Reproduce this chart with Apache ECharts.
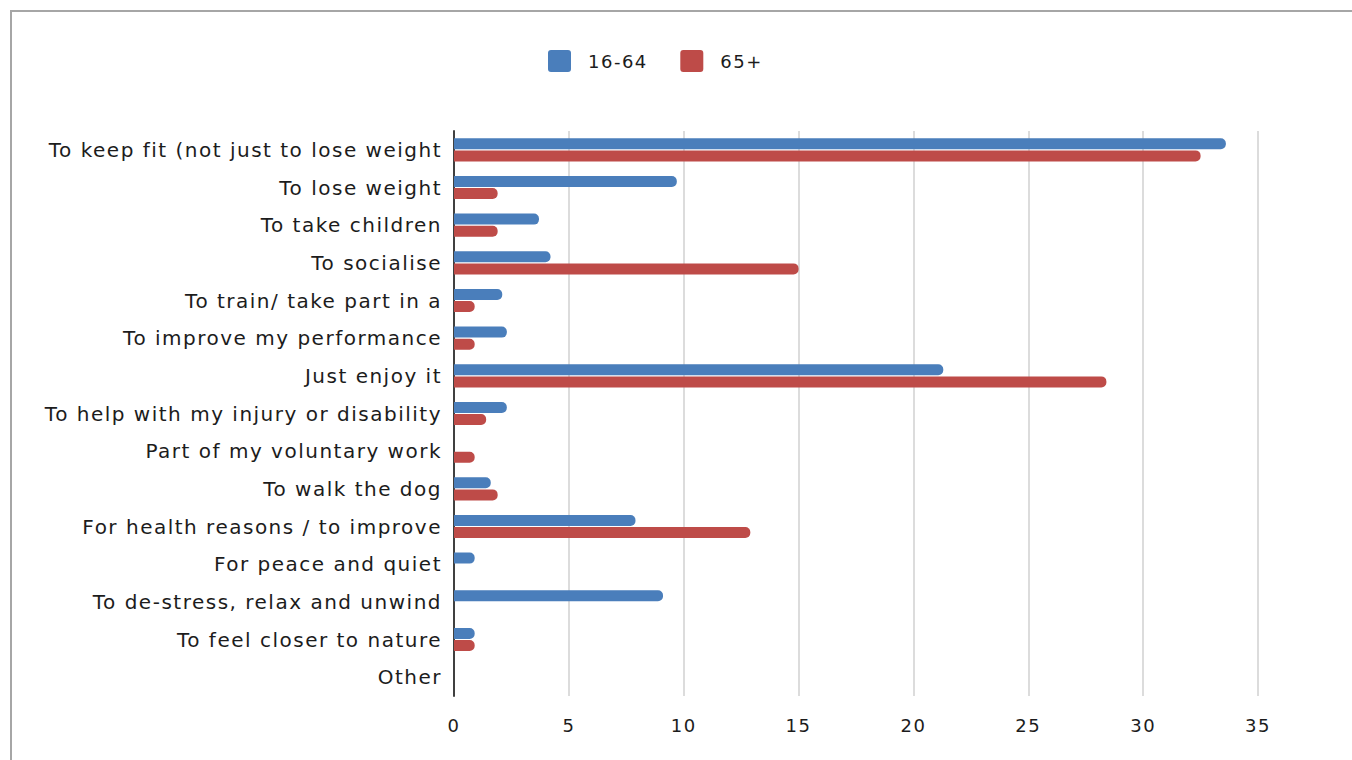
<!DOCTYPE html>
<html>
<head>
<meta charset="utf-8">
<script src="https://cdn.jsdelivr.net/npm/echarts@6/dist/echarts.min.js"></script>
<style>
  html, body { margin: 0; padding: 0; background: #fff; }
  #frame {
    position: absolute; left: 10px; top: 10px; width: 1352px; height: 760px;
    border-top: 2px solid #a6a6a6; border-left: 2px solid #a6a6a6; box-sizing: border-box;
  }
  #chart { position: absolute; left: 0; top: 0; width: 1352px; height: 760px; }
  /* loosely tracked lettering for the labels */
  #chart text { letter-spacing: 1.5px; }
</style>
</head>
<body>
<div id="frame"></div>
<div id="chart"></div>
<script>
// Reasons for taking part, by age group (%)
const categories = [
  'To keep fit (not just to lose weight',
  'To lose weight',
  'To take children',
  'To socialise',
  'To train/ take part in a',
  'To improve my performance',
  'Just enjoy it',
  'To help with my injury or disability',
  'Part of my voluntary work',
  'To walk the dog',
  'For health reasons / to improve',
  'For peace and quiet',
  'To de-stress, relax and unwind',
  'To feel closer to nature',
  'Other'
];
const age16to64 = [33.6, 9.7, 3.7, 4.2, 2.1, 2.3, 21.3, 2.3, 0, 1.6, 7.9, 0.9, 9.1, 0.9, 0];
const age65plus = [32.5, 1.9, 1.9, 15.0, 0.9, 0.9, 28.4, 1.4, 0.9, 1.9, 12.9, 0, 0, 0.9, 0];
const seriesNames = ['16-64', '65+'];
const xTicks = [0, 5, 10, 15, 20, 25, 30, 35];

const font = 'DejaVu Sans';
const textColor = '#1c1c1c';
const chart = echarts.init(document.getElementById('chart'), null, { renderer: 'svg' });

chart.setOption({
  animation: false,
  backgroundColor: 'transparent',
  legend: {
    top: 45,
    left: 543,
    itemWidth: 23,
    itemHeight: 22,
    itemGap: 40,
    icon: 'path://M3,0 L20,0 Q23,0 23,3 L23,19 Q23,22 20,22 L3,22 Q0,22 0,19 L0,3 Q0,0 3,0 Z',
    textStyle: { fontFamily: font, fontSize: 18, color: textColor, padding: [0, 0, 0, 12] },
    data: seriesNames
  },
  grid: { left: 454, right: 94, top: 131, bottom: 64, containLabel: false },
  xAxis: {
    type: 'value',
    min: xTicks[0],
    max: xTicks[xTicks.length - 1],
    interval: 5,
    axisLine: { show: false },
    axisTick: { show: false },
    axisLabel: { fontFamily: font, fontSize: 18, color: textColor, margin: 20 },
    splitLine: { show: true, lineStyle: { color: '#d0d0d0', width: 1.5 } }
  },
  yAxis: {
    type: 'category',
    inverse: true,
    data: categories,
    axisLine: { show: true, lineStyle: { color: '#404040', width: 2 } },
    axisTick: { show: false },
    axisLabel: { fontFamily: font, fontSize: 20, color: textColor, margin: 12 }
  },
  series: [
    {
      name: seriesNames[0],
      type: 'bar',
      data: age16to64,
      barWidth: 11,
      barGap: '10%',
      itemStyle: { color: '#4a7ebb', borderRadius: [0, 5, 5, 0] }
    },
    {
      name: seriesNames[1],
      type: 'bar',
      data: age65plus,
      barWidth: 11,
      barGap: '10%',
      itemStyle: { color: '#be4b48', borderRadius: [0, 5, 5, 0] }
    }
  ]
});
</script>
</body>
</html>
